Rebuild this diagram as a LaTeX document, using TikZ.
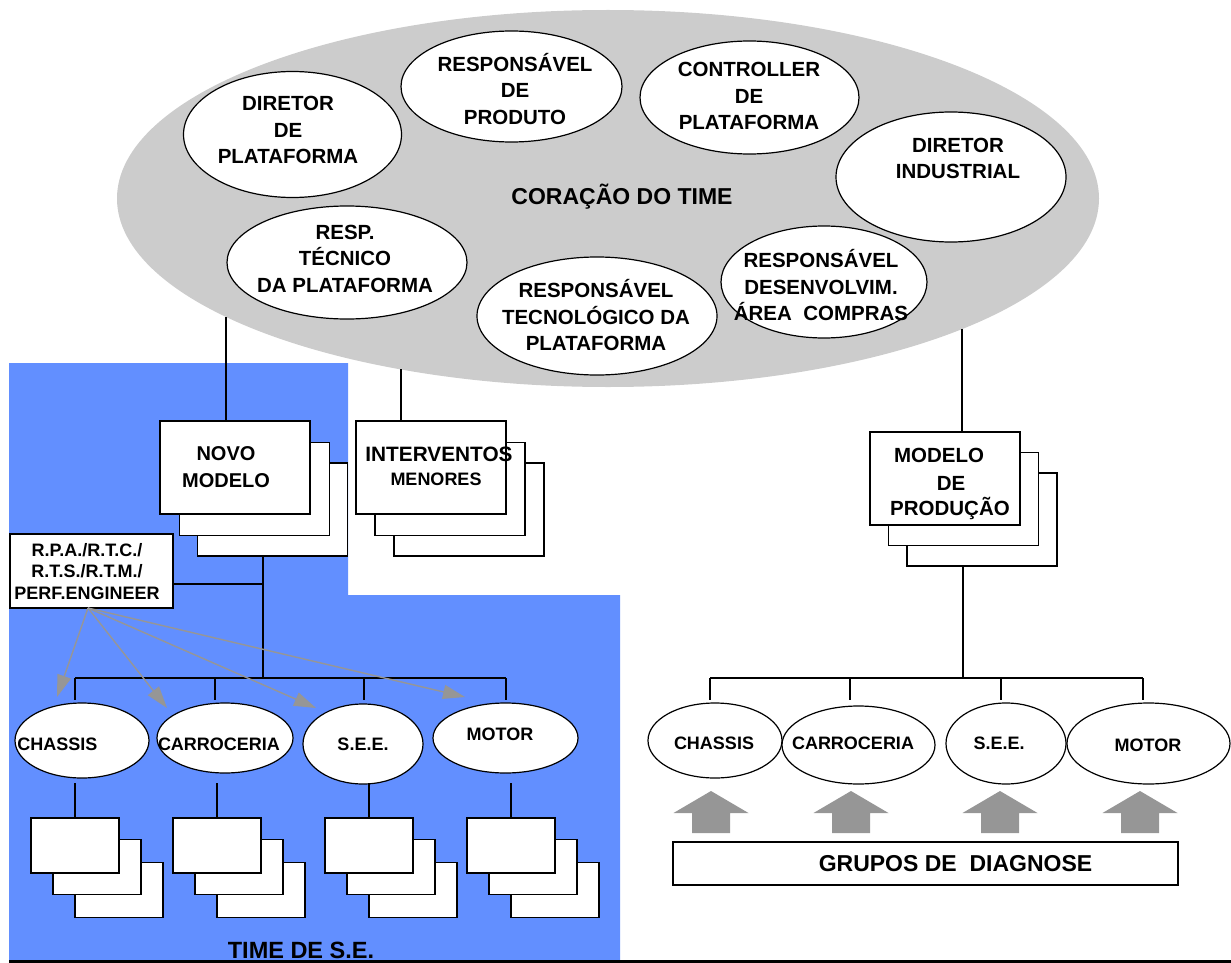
\documentclass[tikz,border=0pt]{standalone}
\usepackage{fontspec}
\setmainfont{Liberation Sans}
\usetikzlibrary{shapes.geometric,arrows.meta}
\definecolor{seblue}{RGB}{98,143,255}
\definecolor{coregray}{RGB}{204,204,204}
\definecolor{arrgray}{RGB}{150,150,150}
\begin{document}
\begin{tikzpicture}[x=1pt,y=-1pt,
  member/.style={ellipse, draw=black, fill=white, line width=1.2pt, inner sep=0pt},
  lbl/.style={inner sep=0pt, align=center, font=\fontsize{20.5}{26.5}\selectfont\bfseries},
  sublbl/.style={inner sep=0pt, align=center, font=\fontsize{18}{21.5}\selectfont\bfseries},
  bigbox/.style={draw=black, fill=white, line width=1.2pt, inner sep=0pt, minimum width=150pt, minimum height=93pt},
  smallbox/.style={draw=black, fill=white, line width=1.2pt, inner sep=0pt, minimum width=88pt, minimum height=55pt},
  conn/.style={draw=black, line width=1.2pt},
  thinarrow/.style={draw=arrgray, line width=1.4pt, -{Triangle[length=22pt,width=14pt]}},
  blockarrow/.style={fill=arrgray, draw=none}
]
\useasboundingbox (0,0) rectangle (1231,963);

% blue team region
\fill[seblue] (9,363) -- (348,363) -- (348,595) -- (620,595) -- (620,961) -- (9,961) -- cycle;

% core of the team
\node[ellipse, fill=coregray, draw=none, inner sep=0pt, minimum width=982pt, minimum height=377pt] (core) at (608,198.5) {};

\node[member, minimum width=218pt, minimum height=126pt] (dp) at (292.5,134.5) {};
\node[member, minimum width=221pt, minimum height=111pt] (rp) at (511.5,86.5) {};
\node[member, minimum width=219pt, minimum height=113pt] (cp) at (749.5,97.5) {};
\node[member, minimum width=230pt, minimum height=130pt] (di) at (951,177) {};
\node[member, minimum width=240pt, minimum height=113pt] (rt) at (347,262.5) {};
\node[member, minimum width=240pt, minimum height=118pt] (rtec) at (597,316) {};
\node[member, minimum width=206pt, minimum height=112pt] (rdc) at (824,282) {};

\node[lbl] (tdp) at (288,130) {DIRETOR\\DE\\PLATAFORMA};
\node[lbl] (trp) at (515,89) {RESPONSÁVEL\\DE\\PRODUTO};
\node[lbl] (tcp) at (749,96) {CONTROLLER\\DE\\PLATAFORMA};
\node[lbl] (tdi) at (958,158.5) {DIRETOR\\INDUSTRIAL};
\node[lbl] (trt) at (345,258.5) {RESP.\\TÉCNICO\\DA PLATAFORMA};
\node[lbl] (trtec) at (596,315.5) {RESPONSÁVEL\\TECNOLÓGICO DA\\PLATAFORMA};
\node[lbl] (trdc) at (821,285.5) {RESPONSÁVEL\\DESENVOLVIM.\\ÁREA\ \ COMPRAS};
\node[inner sep=0pt, font=\fontsize{23}{27}\selectfont\bfseries] (tcore) at (622,197) {CORAÇÃO DO TIME};

% stacked boxes
\node[bigbox] (nm3) at (272.5,509.5) {};
\node[bigbox] (nm2) at (254.5,489) {};
\node[bigbox] (nm1) at (235,467.5) {};
\node[lbl, font=\fontsize{20}{27}\selectfont\bfseries] (tnm) at (226,467.5) {NOVO\\MODELO};

\node[bigbox] (iv3) at (469,509.5) {};
\node[bigbox] (iv2) at (450,489) {};
\node[bigbox] (iv1) at (431,467.5) {};
\node[inner sep=0pt, font=\fontsize{20.8}{25}\selectfont\bfseries] (tiv1) at (439,454) {INTERVENTOS};
\node[inner sep=0pt, font=\fontsize{18}{22}\selectfont\bfseries] (tiv2) at (436,479) {MENORES};

\node[bigbox] (mp3) at (982,519.5) {};
\node[bigbox] (mp2) at (963.5,499) {};
\node[bigbox] (mp1) at (945,478.5) {};
\node[lbl, text height=14.7pt, text depth=0pt] (tmp1) at (939,455) {MODELO};
\node[lbl, text height=14.7pt, text depth=0pt] (tmp2) at (951,483) {DE};
\node[lbl, text height=14.7pt, text depth=0pt] (tmp3) at (950,508) {PRODUÇÃO};

% connectors from the core
\coordinate (cNM) at (226,317);
\coordinate (cIV) at (401,369);
\coordinate (cMP) at (962,329);
\draw[conn] (cNM) -- (cNM |- nm1.north);
\draw[conn] (cIV) -- (cIV |- iv1.north);
\draw[conn] (cMP) -- (cMP |- mp1.north);

% R.P.A. box
\node[draw=black, fill=white, line width=1.3pt, inner sep=0pt, minimum width=163pt, minimum height=74pt] (rpa) at (91.5,571) {};
\node[sublbl] (trpa) at (87,571.5) {R.P.A./R.T.C./\\R.T.S./R.T.M./\\PERF.ENGINEER};

% left bus
\coordinate (lbus) at (263,678);
\coordinate (lrpa) at (263,584);
\draw[conn] (lbus |- nm3.south) -- (lbus);
\draw[conn] (rpa.east |- lrpa) -- (lrpa);
\draw[conn] (75,678) -- (506,678);
\foreach \x in {75,215,364,506} \draw[conn] (\x,678) -- (\x,700);

% right bus
\coordinate (rbus) at (963,678);
\draw[conn] (rbus |- mp3.south) -- (rbus);
\draw[conn] (710,678) -- (1143,678);
\foreach \x in {710,850,1001,1143} \draw[conn] (\x,678) -- (\x,700);

% left ellipses
\node[member, minimum width=134pt, minimum height=75pt] (lch) at (82,740.5) {};
\node[member, minimum width=136pt, minimum height=70pt] (lca) at (225,738) {};
\node[member, minimum width=120pt, minimum height=80pt] (lse) at (363,744) {};
\node[member, minimum width=145pt, minimum height=70pt] (lmo) at (505.5,738) {};
\node[sublbl] (tlch) at (57.5,744) {CHASSIS};
\node[sublbl] (tlca) at (219,744) {CARROCERIA};
\node[sublbl] (tlse) at (363,744) {S.E.E.};
\node[sublbl] (tlmo) at (500,734) {MOTOR};

% right ellipses
\node[member, minimum width=134pt, minimum height=75pt] (rch) at (715,740.5) {};
\node[member, minimum width=153pt, minimum height=78pt] (rca) at (858.5,745) {};
\node[member, minimum width=120pt, minimum height=81pt] (rse) at (1006,743.5) {};
\node[member, minimum width=163pt, minimum height=81pt] (rmo) at (1148.5,743.5) {};
\node[sublbl] (trch) at (714,743) {CHASSIS};
\node[sublbl] (trca) at (853,743) {CARROCERIA};
\node[sublbl] (trse) at (999,743) {S.E.E.};
\node[sublbl] (trmo) at (1148,745) {MOTOR};

% small stacks under the left ellipses
\coordinate (slev) at (0,783);
\foreach \i/\x in {1/31,2/173,3/325,4/467} {
  \node[smallbox] (s\i c) at ({\x+88}, 890) {};
  \node[smallbox] (s\i b) at ({\x+66}, 867) {};
  \node[smallbox] (s\i a) at ({\x+44}, 845.5) {};
  \draw[conn] (s\i a.north) -- (s\i a.north |- slev);
}

% block arrows and diagnosis groups
\foreach \t in {711,851,1000,1140} {
  \fill[blockarrow] (\t,791) -- ({\t+37.5},813) -- ({\t+19},813) -- ({\t+19},833) -- ({\t-19},833) -- ({\t-19},813) -- ({\t-37.5},813) -- cycle;
}
\node[draw=black, fill=white, line width=1.2pt, inner sep=0pt, minimum width=505pt, minimum height=43pt] (gd) at (925.5,863.5) {};
\node[inner sep=0pt, font=\fontsize{23}{27}\selectfont\bfseries] (tgd) at (955.5,864) {GRUPOS DE\ \ DIAGNOSE};

% team label and bottom rule
\node[inner sep=0pt, font=\fontsize{23.5}{27}\selectfont\bfseries] (tse) at (301,950) {TIME DE S.E.};
\coordinate (bl) at (9,961);
\coordinate (br) at (1231,961);
\draw[black, line width=3pt] (bl) -- (br);

% thin gray arrows from R.P.A.
\coordinate (rpaS) at (88,608);
\coordinate (a1) at (57,697);
\coordinate (a2) at (167,708);
\coordinate (a3) at (316,708);
\coordinate (a4) at (465,697);
\foreach \a in {a1,a2,a3,a4} \draw[thinarrow] (rpaS) -- (\a);
\end{tikzpicture}
\end{document}
